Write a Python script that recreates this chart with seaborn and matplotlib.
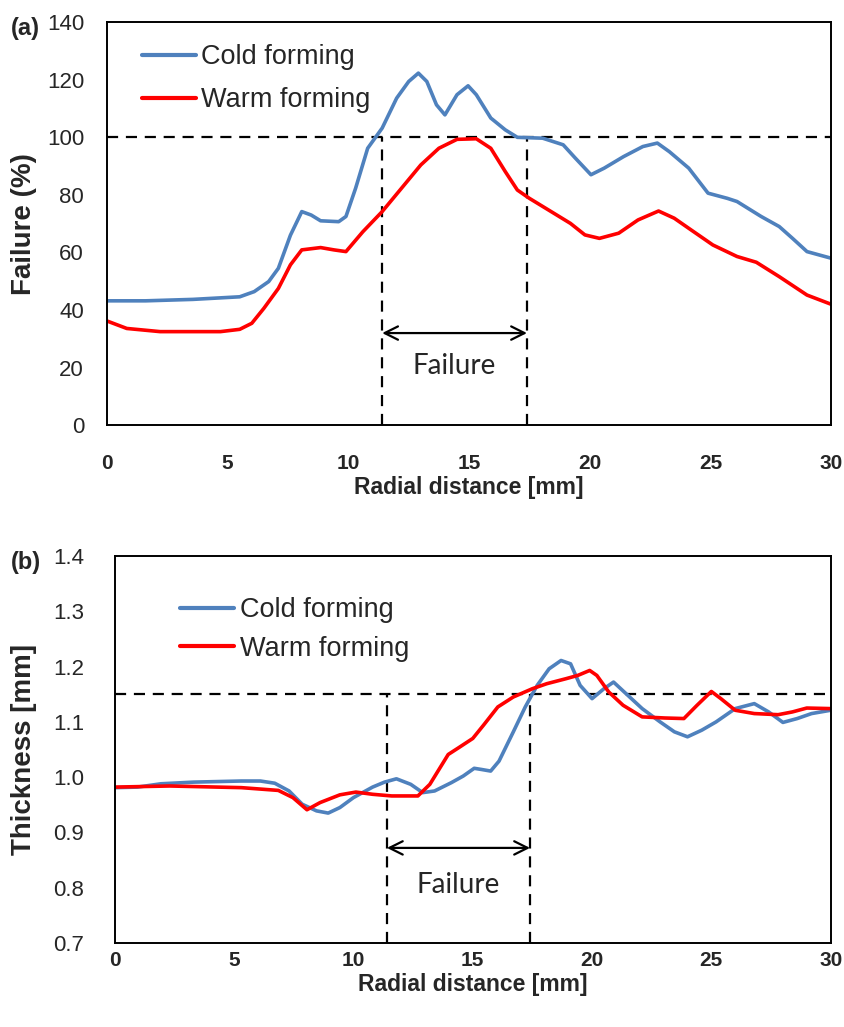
import numpy as np
import pandas as pd
import matplotlib
matplotlib.use("Agg")
import matplotlib.pyplot as plt
import seaborn as sns

# ---- Data (a) Failure (%) ----
cold_a_x = [0, 1.6, 3.56, 5.5, 6.1, 6.7, 7.1, 7.6, 8.07, 8.46, 8.85, 9.6, 9.9, 10.3, 10.8, 11.4, 12.0, 12.5,
            12.9, 13.25, 13.65, 14.0, 14.5, 14.96, 15.3, 15.9, 16.5, 17.0, 18.05, 18.9, 19.4, 20.05, 20.6,
            21.4, 22.2, 22.8, 23.3, 24.1, 24.9, 25.7, 26.1, 27.1, 27.85, 28.4, 29.0, 30]
cold_a_y = [43.2, 43.2, 43.7, 44.6, 46.4, 49.9, 54.5, 66, 74.2, 73, 71, 70.7, 72.5, 82.3, 96.2, 103.2, 113.6,
            119.4, 122.3, 119.4, 111.3, 107.8, 114.8, 117.9, 114.8, 106.7, 102.6, 100, 99.7, 97.4, 92.8, 87,
            89.3, 93.3, 96.8, 98, 95, 89.3, 80.6, 78.8, 77.7, 72.5, 69, 64.9, 60.3, 58]
warm_a_x = [0, 0.82, 2.2, 4.7, 5.5, 6.0, 6.5, 7.1, 7.6, 8.07, 8.85, 9.4, 9.9, 10.6, 11.4, 12.2, 13.0, 13.75,
            14.5, 15.3, 15.9, 16.5, 17.0, 17.5, 18.4, 19.2, 19.8, 20.4, 21.2, 22.0, 22.85, 23.5, 24.1, 25.1,
            26.1, 26.9, 27.85, 29.0, 30]
warm_a_y = [36.2, 33.6, 32.5, 32.5, 33.3, 35.4, 40.6, 47.5, 55.7, 60.9, 61.7, 60.9, 60.3, 67.2, 74.2, 82.3,
            90.4, 96.2, 99.3, 99.5, 96.2, 88.1, 81.7, 78.8, 74.2, 70.1, 66.1, 64.9, 66.7, 71.3, 74.4, 71.9,
            68.4, 62.6, 58.6, 56.6, 51.6, 45.2, 42]

# ---- Data (b) Thickness [mm] ----
cold_b_x = [0, 0.95, 1.93, 3.3, 5.3, 6.1, 6.7, 7.3, 7.85, 8.45, 8.94, 9.43, 10.0, 10.8, 11.3, 11.8, 12.4,
            12.9, 13.4, 14.1, 14.6, 15.06, 15.35, 15.75, 16.1, 16.7, 17.2, 17.7, 18.2, 18.7, 19.1, 19.5, 20.0,
            20.5, 20.9, 21.5, 22.1, 22.85, 23.45, 24.0, 24.6, 25.2, 26.0, 26.8, 27.4, 28.0, 28.6, 29.2, 30]
cold_b_y = [0.981, 0.982, 0.988, 0.991, 0.993, 0.993, 0.989, 0.975, 0.951, 0.939, 0.935, 0.945, 0.963, 0.982,
            0.991, 0.997, 0.987, 0.972, 0.975, 0.990, 1.002, 1.016, 1.014, 1.011, 1.029, 1.082, 1.127, 1.166,
            1.196, 1.211, 1.205, 1.166, 1.142, 1.160, 1.172, 1.148, 1.124, 1.100, 1.082, 1.073, 1.085, 1.100,
            1.124, 1.133, 1.118, 1.099, 1.106, 1.115, 1.121]
warm_b_x = [0, 2.3, 5.3, 6.85, 7.46, 8.05, 8.6, 9.43, 10.1, 10.8, 11.6, 12.7, 13.2, 13.97, 14.4, 15.0, 15.45,
            16.05, 16.7, 17.5, 18.1, 18.9, 19.4, 19.9, 20.2, 20.7, 21.3, 22.1, 23.05, 23.85, 24.4, 25.0, 25.4,
            26.0, 26.8, 27.8, 28.4, 29.0, 30]
warm_b_y = [0.982, 0.984, 0.981, 0.976, 0.963, 0.941, 0.954, 0.968, 0.973, 0.969, 0.966, 0.966, 0.987, 1.041,
            1.053, 1.070, 1.094, 1.127, 1.145, 1.160, 1.169, 1.178, 1.184, 1.193, 1.184, 1.154, 1.130, 1.109,
            1.107, 1.106, 1.130, 1.155, 1.142, 1.121, 1.115, 1.113, 1.118, 1.125, 1.124]

series_names = ["Cold forming", "Warm forming"]
x_ticks = [0, 5, 10, 15, 20, 25, 30]
y_ticks_a = [0, 20, 40, 60, 80, 100, 120, 140]
y_ticks_b = [0.7, 0.8, 0.9, 1.0, 1.1, 1.2, 1.3, 1.4]
failure_start, failure_end = 11.4, 17.4
limit_a, limit_b = 100, 1.15

sns.set_style("white")
plt.rcParams['font.family'] = ['Liberation Sans', 'DejaVu Sans']
palette = {"Cold forming": "#4F81BD", "Warm forming": "#FF0000"}

df_a = pd.concat([
    pd.DataFrame({"x": cold_a_x, "y": cold_a_y, "s": series_names[0]}),
    pd.DataFrame({"x": warm_a_x, "y": warm_a_y, "s": series_names[1]}),
])
df_b = pd.concat([
    pd.DataFrame({"x": cold_b_x, "y": cold_b_y, "s": series_names[0]}),
    pd.DataFrame({"x": warm_b_x, "y": warm_b_y, "s": series_names[1]}),
])

fig = plt.figure(figsize=(8.45, 10.27), dpi=100)
ax1 = fig.add_axes([0.1266, 0.586, 0.857, 0.3924])
ax2 = fig.add_axes([0.136, 0.0818, 0.847, 0.3768])

DASH = (0, (5, 3.5))

def style_axis(ax, df, yticks, ylim, ylabel, yfmt, limit, arrow_y, text_y, legend_anchor,
               label_spacing, panel, panel_xy, ypad, xpad, ylabel_x):
    sns.lineplot(data=df, x="x", y="y", hue="s", palette=palette, linewidth=2.6, ax=ax,
                 sort=False, estimator=None)
    ax.set_xlim(0, 30)
    ax.set_ylim(*ylim)
    ax.set_xticks(x_ticks)
    ax.set_xticks(np.arange(0, 31, 1), minor=True)
    ax.set_yticks(yticks)
    ax.set_yticklabels([yfmt.format(v) for v in yticks], fontsize=16)
    ax.set_xticklabels([str(v) for v in x_ticks], fontsize=15, fontweight='bold')
    ax.tick_params(axis='both', which='both', direction='in', length=6, width=1.2, color='black')
    ax.tick_params(axis='x', which='major', pad=xpad)
    ax.tick_params(axis='y', which='major', pad=ypad)
    for sp in ax.spines.values():
        sp.set_color('black')
        sp.set_linewidth(1.4)
    ax.set_xlabel("Radial distance [mm]", fontsize=16.5, fontweight='bold', labelpad=2)
    ax.set_ylabel(ylabel, fontsize=20, fontweight='bold')
    ax.yaxis.set_label_coords(ylabel_x, 0.5)
    # limit line and failure zone
    ax.axhline(limit, color='black', linestyle=DASH, linewidth=1.6, zorder=1)
    ax.plot([failure_start, failure_start], [ylim[0], limit], color='black', linestyle=DASH, linewidth=1.6, zorder=1)
    ax.plot([failure_end, failure_end], [ylim[0], limit], color='black', linestyle=DASH, linewidth=1.6, zorder=1)
    ax.annotate("", xy=(failure_start, arrow_y), xytext=(failure_end, arrow_y),
                arrowprops=dict(arrowstyle='<->', color='black', lw=1.6, mutation_scale=24,
                                shrinkA=0, shrinkB=0))
    ax.text((failure_start + failure_end) / 2, text_y, "Failure", ha='center', va='center',
            fontsize=20, family=['Lato', 'DejaVu Sans'])
    leg = ax.legend(loc='upper left', bbox_to_anchor=legend_anchor, frameon=False,
                    prop={'family': ['Liberation Sans', 'DejaVu Sans'], 'size': 19.5},
                    handlelength=2.0, handletextpad=0.2, labelspacing=label_spacing,
                    borderaxespad=0, borderpad=0)
    for line in leg.get_lines():
        line.set_linewidth(3)
    ax.text(panel_xy[0], panel_xy[1], panel, transform=ax.transAxes, fontsize=17,
            fontweight='bold', ha='left', va='center')

style_axis(ax1, df_a, y_ticks_a, (0, 140), "Failure (%)", "{:d}", limit_a, 32, 20.5,
           (0.048, 0.945), 0.62, "(a)", (-0.133, 0.985), 16.5, 21, -0.0967)
style_axis(ax2, df_b, y_ticks_b, (0.7, 1.4), "Thickness [mm]", "{:.1f}", limit_b, 0.872, 0.805,
           (0.091, 0.893), 0.45, "(b)", (-0.146, 0.982), 22, 6, -0.109)

fig.savefig("out.png", dpi=100, facecolor='white')
